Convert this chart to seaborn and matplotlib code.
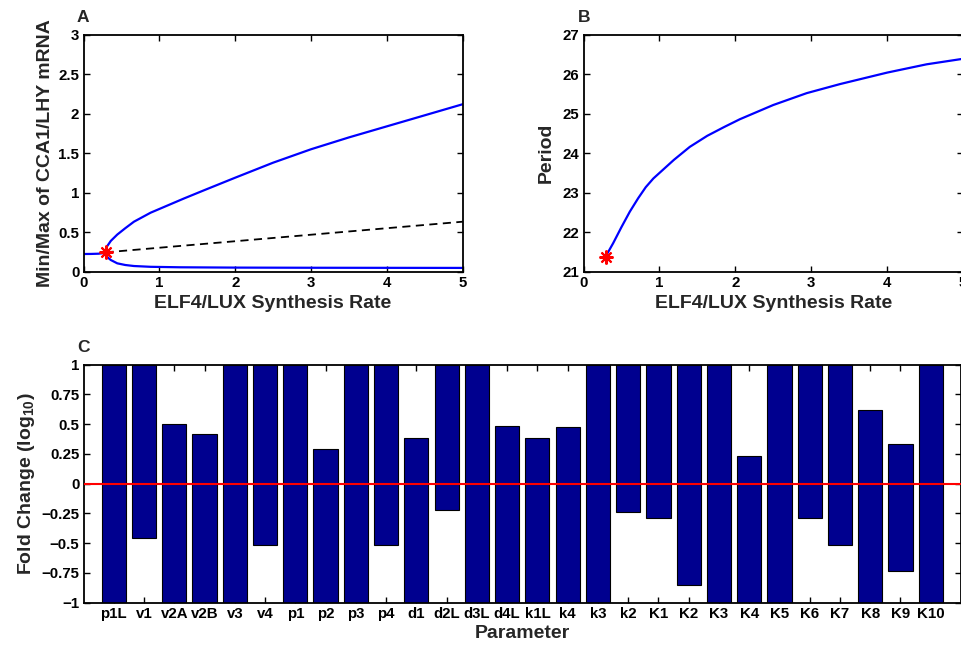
import numpy as np
import pandas as pd
import seaborn as sns
import matplotlib.pyplot as plt

# ---- panel A: bifurcation diagram (min/max of CCA1/LHY mRNA) ----
a_left_x = [0.0, 0.1, 0.2, 0.25, 0.29]
a_left_y = [0.224, 0.225, 0.228, 0.234, 0.245]
a_upper_x = [0.29, 0.295, 0.31, 0.36, 0.445, 0.55, 0.665, 0.885, 1.10, 1.32, 1.6, 2.0, 2.5, 3.0, 3.5, 4.0, 4.5, 5.0]
a_upper_y = [0.245, 0.28, 0.32, 0.39, 0.47, 0.55, 0.633, 0.747, 0.835, 0.925, 1.035, 1.19, 1.38, 1.55, 1.70, 1.84, 1.98, 2.12]
a_lower_x = [0.29, 0.30, 0.32, 0.36, 0.445, 0.55, 0.665, 0.885, 1.27, 2.0, 3.0, 4.0, 5.0]
a_lower_y = [0.245, 0.21, 0.18, 0.148, 0.106, 0.085, 0.072, 0.062, 0.056, 0.052, 0.050, 0.049, 0.048]
a_unstable_x = [0.29, 5.0]
a_unstable_y = [0.245, 0.633]
hopf_x = 0.29
hopf_y_a = 0.245

# ---- panel B: period along the branch ----
b_x = [0.29, 0.39, 0.5, 0.61, 0.72, 0.82, 0.92, 1.19, 1.40, 1.63, 1.85, 2.06, 2.50, 2.94, 3.38, 4.0, 4.52, 5.0]
b_y = [21.38, 21.72, 22.13, 22.52, 22.86, 23.14, 23.36, 23.83, 24.16, 24.44, 24.66, 24.86, 25.22, 25.52, 25.75, 26.04, 26.25, 26.39]
hopf_y_b = 21.38

# ---- panel C: parameter ranges (log10 fold change) ----
params = ['p1L', 'v1', 'v2A', 'v2B', 'v3', 'v4', 'p1', 'p2', 'p3', 'p4', 'd1', 'd2L', 'd3L', 'd4L',
          'k1L', 'k4', 'k3', 'k2', 'K1', 'K2', 'K3', 'K4', 'K5', 'K6', 'K7', 'K8', 'K9', 'K10']
upper = [1, 1, 0.506, 0.419, 1, 1, 1, 0.29, 1, 1, 0.388, 1, 1, 0.489,
         0.388, 0.478, 1, 1, 1, 1, 1, 0.229, 1, 1, 1, 0.617, 0.33, 1]
lower = [-1, -0.46, -1, -1, -1, -0.511, -1, -1, -1, -0.511, -1, -0.223, -1, -1,
         -1, -1, -1, -0.24, -0.29, -0.852, -1, -1, -1, -0.29, -0.511, -1, -0.732, -1]

sns.set_theme(style="ticks")
plt.rcParams['font.family'] = ['Liberation Sans', 'DejaVu Sans']
plt.rcParams['font.weight'] = 'bold'
plt.rcParams['axes.labelweight'] = 'bold'
plt.rcParams['mathtext.fontset'] = 'custom'
plt.rcParams['mathtext.rm'] = 'Liberation Sans:bold'
plt.rcParams['mathtext.default'] = 'rm'

fig = plt.figure(figsize=(9.61, 6.46), dpi=100)
axA = fig.add_axes([0.0869, 0.5794, 0.3946, 0.3669])
axB = fig.add_axes([0.6072, 0.5794, 0.3949, 0.3669])
axC = fig.add_axes([0.0869, 0.0670, 0.9131, 0.3684])

LABEL_FS = 14

def matlab_style(ax):
    ax.tick_params(direction='in', top=True, right=True, length=4, width=1,
                   labelsize=10.8, pad=3, colors='black')
    for s in ax.spines.values():
        s.set_linewidth(1.3)
        s.set_color('black')
        s.set_visible(True)
    for lab in ax.get_xticklabels() + ax.get_yticklabels():
        lab.set_fontweight('bold')

# A
sns.lineplot(x=a_left_x, y=a_left_y, ax=axA, color='blue', lw=1.6, sort=False, estimator=None)
sns.lineplot(x=a_upper_x, y=a_upper_y, ax=axA, color='blue', lw=1.6, sort=False, estimator=None)
sns.lineplot(x=a_lower_x, y=a_lower_y, ax=axA, color='blue', lw=1.6, sort=False, estimator=None)
axA.plot(a_unstable_x, a_unstable_y, color='black', lw=1.3, ls=(0, (4.5, 3)))
axA.plot([hopf_x], [hopf_y_a], marker=(8, 2, 0), color='red', ms=10, mew=1.5, zorder=5)
axA.set_xlim(0, 5)
axA.set_ylim(0, 3)
axA.set_xticks(range(6))
axA.set_yticks(np.arange(0, 3.01, 0.5))
axA.set_yticklabels(['0', '0.5', '1', '1.5', '2', '2.5', '3'])
axA.set_xlabel('ELF4/LUX Synthesis Rate', fontsize=LABEL_FS, labelpad=4)
axA.set_ylabel('Min/Max of CCA1/LHY mRNA', fontsize=LABEL_FS, labelpad=3)
matlab_style(axA)

# B
sns.lineplot(x=b_x, y=b_y, ax=axB, color='blue', lw=1.6, sort=False, estimator=None)
axB.plot([hopf_x], [hopf_y_b], marker=(8, 2, 0), color='red', ms=10, mew=1.5, zorder=5)
axB.set_xlim(0, 5)
axB.set_ylim(21, 27)
axB.set_xticks(range(6))
axB.set_yticks(range(21, 28))
axB.set_xlabel('ELF4/LUX Synthesis Rate', fontsize=LABEL_FS, labelpad=4)
axB.set_ylabel('Period', fontsize=LABEL_FS, labelpad=6)
matlab_style(axB)

# C: floating bars drawn as two bars from zero
df = pd.DataFrame({'Parameter': params, 'upper': upper, 'lower': lower})
sns.barplot(data=df, x='Parameter', y='upper', order=params, ax=axC, color='#00008F',
            saturation=1, width=0.8, edgecolor='black', linewidth=0.8)
sns.barplot(data=df, x='Parameter', y='lower', order=params, ax=axC, color='#00008F',
            saturation=1, width=0.8, edgecolor='black', linewidth=0.8)
axC.axhline(0, color='red', lw=1.5, zorder=5)
axC.set_xlim(-1, len(params))
axC.set_ylim(-1, 1)
yt = [-1, -0.75, -0.5, -0.25, 0, 0.25, 0.5, 0.75, 1]
axC.set_yticks(yt)
axC.set_yticklabels(['\u22121', '\u22120.75', '\u22120.5', '\u22120.25', '0', '0.25', '0.5', '0.75', '1'])
axC.set_xlabel('Parameter', fontsize=LABEL_FS, labelpad=3)
axC.set_ylabel('Fold Change (log$_{10}$)', fontsize=LABEL_FS, labelpad=3)
matlab_style(axC)

# panel letters
fig.text(0.080, 0.973, 'A', fontsize=12.5, fontweight='bold', va='center')
fig.text(0.601, 0.973, 'B', fontsize=12.5, fontweight='bold', va='center')
fig.text(0.080, 0.462, 'C', fontsize=12.5, fontweight='bold', va='center')

fig.savefig('out.png', dpi=100)
